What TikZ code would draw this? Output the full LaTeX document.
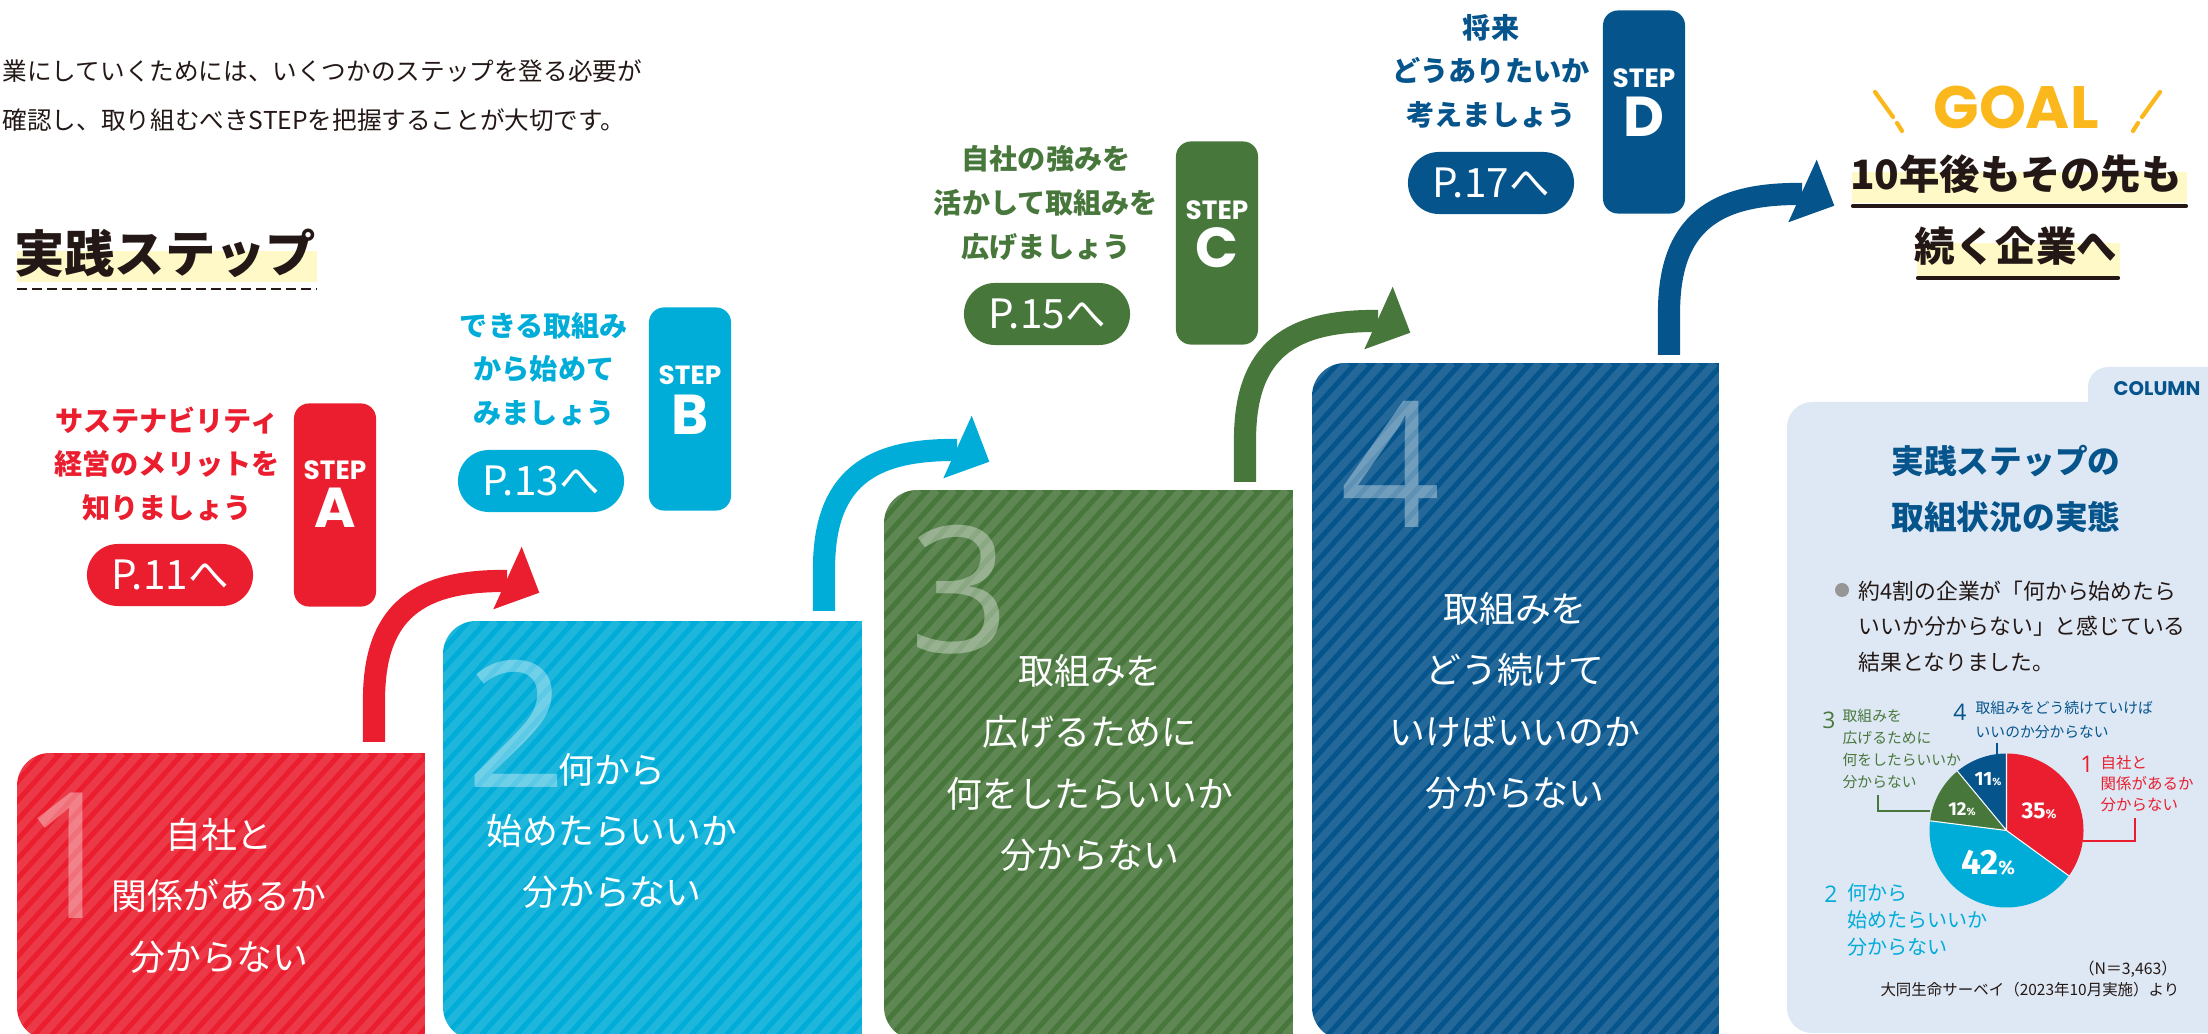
\documentclass[tikz,border=0pt]{standalone}
\usepackage{fontspec}
\setmainfont{Noto Sans CJK JP}
\newfontfamily\popp{Poppins}
\newfontfamily\numf{Open Sans}
\newfontfamily\fira{Fira Sans}
\definecolor{cRed}{RGB}{234,30,46}
\definecolor{cCyan}{RGB}{0,172,216}
\definecolor{cGreen}{RGB}{72,119,60}
\definecolor{cNavy}{RGB}{5,84,140}
\definecolor{cGoal}{RGB}{251,184,28}
\definecolor{cHl}{RGB}{255,249,199}
\definecolor{cCol}{RGB}{222,232,244}
\definecolor{cText}{RGB}{35,24,21}
\definecolor{cBullet}{RGB}{150,150,150}
\tikzset{
  desc/.style={align=center, font=\bfseries\fontsize{8}{12.4}\selectfont, inner sep=0},
  pill/.style={rounded corners=0.31cm, minimum width=1.66cm, minimum height=0.62cm, text=white, font=\fontsize{11.5}{12}\selectfont, inner sep=0},
  stepbox/.style={rounded corners=0.15cm, minimum width=0.82cm, minimum height=2.03cm, inner sep=0},
  steplbl/.style={text=white, font=\popp\bfseries\fontsize{7.5}{8}\selectfont, inner sep=0},
  stepletter/.style={text=white, font=\popp\bfseries\fontsize{16}{16}\selectfont, inner sep=0},
  blocktxt/.style={text=white, align=center, font=\fontsize{10.2}{17.4}\selectfont, inner sep=0},
  numeral/.style={text=white, text opacity=0.36, font=\numf\fontsize{50}{50}\selectfont, inner sep=0},
  stripe/.style={white, opacity=0.12, line width=2.2pt},
  shaft/.style={line width=6.3pt},
  plabel/.style={anchor=west, align=left, inner sep=0},
  pnum/.style={inner sep=0, font=\numf\fontsize{6.5}{7}\selectfont},
  pct/.style={text=white, inner sep=0},
  leader/.style={line width=0.35pt},
}
\newcommand\stairBlock[4]{%
  \begin{scope}
    \clip (#3,1040) -- (#3,#2) -- (#1+40,#2) [rounded corners=0.33cm] -- (#1,#2) -- (#1,1040) [sharp corners] -- cycle;
    \fill[#4] (#1,#2) rectangle (#3,1040);
    \pgfmathsetmacro\dxs{(1040-#2)/1.11}
    \foreach \k in {0,...,85} {
      \pgfmathsetmacro\xs{#1-\dxs+\k*17.5}
      \draw[stripe] (\xs,1040) -- ++(\dxs,{-(1040-#2)});
    }
  \end{scope}}
\newcommand\bigArrow[3]{%
  \begin{scope}[shift={(#1,#2)}]
    \draw[#3, shaft] (374,742) -- (374,700) .. controls (374,610) and (420,580) .. (507,581);
    \fill[#3] (521.7,546.7) -- (539.3,592.7) -- (493.3,609.3) -- cycle;
  \end{scope}}
\begin{document}
\begin{tikzpicture}[x=0.01cm, y=-0.01cm]
\useasboundingbox (0,0) rectangle (2208,1034);

% intro text
\node[anchor=west, inner sep=0, text=cText, font=\fontsize{7}{7.5}\selectfont] (intro1) at (2,71) {業にしていくためには、いくつかのステップを登る必要が};
\node[anchor=west, inner sep=0, text=cText, font=\fontsize{7}{7.5}\selectfont] (intro2) at (2,120) {確認し、取り組むべきSTEPを把握することが大切です。};

% heading
\fill[cHl] (17,251) rectangle (317,282);
\node[inner sep=0, text=cText, font=\bfseries\fontsize{14.3}{15}\selectfont] (head) at (165,253) {実践ステップ};
\draw[cText, line width=0.7pt, dash pattern=on 2.85pt off 1.4pt] (17,289) -- (317,289);

% stair blocks
\stairBlock{17}{753}{425}{cRed}
\stairBlock{443}{621}{862}{cCyan}
\stairBlock{884}{490}{1293}{cGreen}
\stairBlock{1312}{363}{1719}{cNavy}

% arrows
\bigArrow{0}{0}{cRed}
\bigArrow{450}{-131}{cCyan}
\bigArrow{871}{-260}{cGreen}
\bigArrow{1295}{-387}{cNavy}

% numerals
\node[numeral] (n1) at (72,856) {1};
\node[numeral] (n2) at (517,724) {2};
\node[numeral] (n3) at (960,590) {3};
\node[numeral] (n4) at (1391,464) {4};

% block texts
\node[blocktxt] (t1) at (219,896) {自社と\\関係があるか\\分からない};
\node[blocktxt] (t2) at (612,831) {何から\\始めたらいいか\\分からない};
\node[blocktxt] (t3) at (1090,763) {取組みを\\広げるために\\何をしたらいいか\\分からない};
\node[blocktxt] (t4) at (1515,701) {取組みを\\どう続けて\\いけばいいのか\\分からない};

% step descriptions
\node[desc, text=cRed] (dA) at (167,464) {サステナビリティ\\経営のメリットを\\知りましょう};
\node[desc, text=cCyan] (dB) at (544,369) {できる取組み\\から始めて\\みましょう};
\node[desc, text=cGreen] (dC) at (1046,203) {自社の強みを\\活かして取組みを\\広げましょう};
\node[desc, text=cNavy] (dD) at (1491,71) {将来\\どうありたいか\\考えましょう};

% pills
\node[pill, fill=cRed] (pA) at (170,575) {P.11へ};
\node[pill, fill=cCyan] (pB) at (541,481) {P.13へ};
\node[pill, fill=cGreen] (pC) at (1047,314) {P.15へ};
\node[pill, fill=cNavy] (pD) at (1491,183) {P.17へ};

% step boxes
\node[stepbox, fill=cRed] (sA) at (335,505) {};
\node[steplbl] (sAl) at (335,470) {STEP};
\node[stepletter] (sAL) at (335,508) {A};
\node[stepbox, fill=cCyan] (sB) at (690,409) {};
\node[steplbl] (sBl) at (690,375) {STEP};
\node[stepletter] (sBL) at (690,415) {B};
\node[stepbox, fill=cGreen] (sC) at (1217,243) {};
\node[steplbl] (sCl) at (1217,210) {STEP};
\node[stepletter] (sCL) at (1217,248) {C};
\node[stepbox, fill=cNavy] (sD) at (1644,112) {};
\node[steplbl] (sDl) at (1644,78) {STEP};
\node[stepletter] (sDL) at (1644,117) {D};

% goal
\node[inner sep=0, text=cGoal, font=\popp\bfseries\fontsize{17}{18}\selectfont] (goal) at (2016,107) {GOAL};
\draw[cGoal, line width=1.2pt, line cap=round] (1875,92) -- (1893,117) (1897,123) -- (1902,131);
\draw[cGoal, line width=1.2pt, line cap=round] (2160,92) -- (2142,117) (2138,123) -- (2133,131);
\fill[cHl] (1852,172) rectangle (2187,203);
\fill[cHl] (1917,243) rectangle (2120,277);
\draw[cText, line width=1.2pt, line cap=round] (1853,206) -- (2186,206);
\draw[cText, line width=1.2pt, line cap=round] (1918,278) -- (2118,278);
\node[inner sep=0, text=cText, font=\bfseries\fontsize{11.5}{12}\selectfont] (g1) at (2016,174) {10年後もその先も};
\node[inner sep=0, text=cText, font=\bfseries\fontsize{11.5}{12}\selectfont] (g2) at (2016,246) {続く企業へ};

% column box
\fill[cCol, rounded corners=0.2cm] (2088,367) rectangle (2260,450);
\fill[cCol, rounded corners=0.25cm] (1787,402) rectangle (2260,1033);
\node[inner sep=0, text=cNavy, font=\popp\bfseries\fontsize{5.6}{6}\selectfont] (colm) at (2157,389) {COLUMN};
\node[inner sep=0, align=center, text=cNavy, font=\bfseries\fontsize{9.3}{15.9}\selectfont] (ctitle) at (2006,489) {実践ステップの\\取組状況の実態};
\fill[cBullet] (1842,590) circle[radius=7];
\node[plabel, text=cText, font=\fontsize{6.2}{10.1}\selectfont] (bul) at (1858,626.5) {約4割の企業が「何から始めたら\\いいか分からない」と感じている\\結果となりました。};

% pie
\coordinate (pc) at (2006.5,830.5);
\fill[cRed] (pc) -- ++(-90:77) arc[start angle=-90, end angle=36, radius=77] -- cycle;
\fill[cCyan] (pc) -- ++(36:77) arc[start angle=36, end angle=187.2, radius=77] -- cycle;
\fill[cGreen] (pc) -- ++(187.2:77) arc[start angle=187.2, end angle=230.4, radius=77] -- cycle;
\fill[cNavy] (pc) -- ++(230.4:77) arc[start angle=230.4, end angle=270, radius=77] -- cycle;
\draw[white, line width=0.3pt] (pc) -- ++(-90:77) (pc) -- ++(36:77) (pc) -- ++(187.2:77) (pc) -- ++(230.4:77);

\node[pct, font=\fira\bfseries\fontsize{6.5}{7}\selectfont] (p35) at (2039,811) {35{\fontsize{3.6}{4}\selectfont\%}};
\node[pct, font=\fira\bfseries\fontsize{10}{11}\selectfont] (p42) at (1988,863) {42{\fontsize{5.5}{6}\selectfont\%}};
\node[pct, font=\fira\bfseries\fontsize{5.3}{6}\selectfont] (p12) at (1962,809) {12{\fontsize{3}{4}\selectfont\%}};
\node[pct, font=\fira\bfseries\fontsize{5.5}{6}\selectfont] (p11) at (1988,779) {11{\fontsize{3}{4}\selectfont\%}};

% pie labels
\node[pnum, text=cRed] (l1n) at (2087,764) {1};
\node[plabel, text=cRed, font=\fontsize{4.4}{6}\selectfont] (l1) at (2100,784) {自社と\\関係があるか\\分からない};
\draw[cRed, leader] (2083,841) -- (2135,841) -- (2135,818);

\node[pnum, text=cCyan] (l2n) at (1831,894) {2};
\node[plabel, text=cCyan, font=\fontsize{5.7}{7.7}\selectfont] (l2) at (1847,920) {何から\\始めたらいいか\\分からない};

\node[pnum, text=cGreen] (l3n) at (1829,720) {3};
\node[plabel, text=cGreen, font=\fontsize{4.2}{6.2}\selectfont] (l3) at (1842,749) {取組みを\\広げるために\\何をしたらいいか\\分からない};
\draw[cGreen, leader] (1878,795) -- (1878,811) -- (1930,811);

\node[pnum, text=cNavy] (l4n) at (1960,712) {4};
\node[plabel, text=cNavy, font=\fontsize{4.2}{6.8}\selectfont] (l4) at (1975,720) {取組みをどう続けていけば\\いいのか分からない};
\draw[cNavy, leader] (1997,743) -- (1997,754);

\node[anchor=east, inner sep=0, text=cText, font=\fontsize{4.5}{5}\selectfont] (nn) at (2178,969) {（N＝3,463）};
\node[anchor=east, inner sep=0, text=cText, font=\fontsize{4.4}{5}\selectfont] (src) at (2180,990) {大同生命サーベイ（2023年10月実施）より};
\end{tikzpicture}
\end{document}
